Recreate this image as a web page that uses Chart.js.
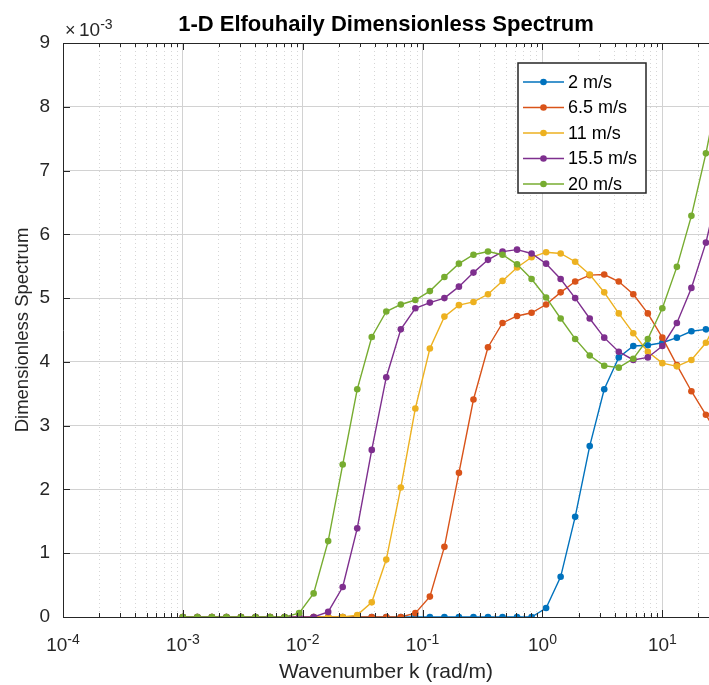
<!DOCTYPE html>
<html>
<head>
  <title>1-D Elfouhaily Dimensionless Spectrum</title>
  <script src="https://cdn.jsdelivr.net/npm/chart.js"></script>
  <style>
    body { margin: 0; background: #fff; overflow: hidden; }
    #chart-container { width: 709px; height: 685px; position: relative; }
  </style>
</head>
<body>
  <div id="chart-container">
    <canvas id="specChart"></canvas>
  </div>

  <script>
    // wavenumber k (rad/m), log spaced sample points
    const k = [0.001, 0.001322, 0.0017475, 0.0023101, 0.0030537, 0.004037, 0.0053367, 0.0070548,
      0.009326, 0.012328, 0.016298, 0.021544, 0.02848, 0.037649, 0.04977, 0.065793,
      0.086975, 0.11497, 0.15199, 0.20092, 0.26561, 0.35112, 0.46416, 0.61359,
      0.81113, 1.0723, 1.4175, 1.8738, 2.4771, 3.2745, 4.3288, 5.7224,
      7.5646, 10.0, 13.219, 17.475, 23.101, 30.537];

    // dimensionless spectrum, in units of 1e-3
    const spec2 = [0, 0, 0, 0, 0, 0, 0, 0, 0, 0, 0, 0, 0, 0, 0, 0, 0, 0, 0, 0, 0, 0, 0, 0, 0,
      0.14, 0.63, 1.57, 2.68, 3.57, 4.07, 4.25, 4.26, 4.30, 4.38, 4.48, 4.51, 4.52];
    const spec65 = [0, 0, 0, 0, 0, 0, 0, 0, 0, 0, 0, 0, 0, 0, 0, 0,
      0.06, 0.32, 1.10, 2.26, 3.41, 4.23, 4.61, 4.72, 4.77, 4.90, 5.09, 5.26, 5.36, 5.37,
      5.26, 5.06, 4.76, 4.38, 3.95, 3.54, 3.17, 2.80];
    const spec11 = [0, 0, 0, 0, 0, 0, 0, 0, 0, 0, 0, 0,
      0.03, 0.23, 0.90, 2.03, 3.27, 4.21, 4.71, 4.89, 4.94, 5.06, 5.27, 5.48, 5.64, 5.72,
      5.70, 5.57, 5.37, 5.09, 4.76, 4.45, 4.16, 3.98, 3.93, 4.03, 4.30, 4.75];
    const spec155 = [0, 0, 0, 0, 0, 0, 0, 0, 0, 0,
      0.08, 0.47, 1.39, 2.62, 3.76, 4.51, 4.84, 4.93, 5.00, 5.18, 5.40, 5.60, 5.73, 5.76,
      5.70, 5.54, 5.30, 5.00, 4.68, 4.38, 4.16, 4.03, 4.07, 4.25, 4.61, 5.16, 5.87, 6.85];
    const spec20 = [0, 0, 0, 0, 0, 0, 0, 0,
      0.06, 0.37, 1.19, 2.39, 3.57, 4.39, 4.79, 4.90, 4.97, 5.11, 5.33, 5.54, 5.68, 5.73,
      5.68, 5.53, 5.30, 5.01, 4.68, 4.36, 4.10, 3.94, 3.91, 4.05, 4.36, 4.84, 5.49, 6.29,
      7.27, 8.42];

    const windLabels = ['2 m/s', '6.5 m/s', '11 m/s', '15.5 m/s', '20 m/s'];
    const windColors = ['#0072BD', '#D95319', '#EDB120', '#7E2F8E', '#77AC30'];
    const allSpecs = [spec2, spec65, spec11, spec155, spec20];

    const FONT = '"Liberation Sans", Arial, sans-serif';

    function isDecade(v) {
      const l = Math.log10(v);
      return Math.abs(l - Math.round(l)) < 1e-6;
    }
    function keepTick(v) {
      if (isDecade(v)) return true;
      const m = v / Math.pow(10, Math.floor(Math.log10(v)));
      return Math.abs(m - Math.round(m)) < 1e-6;
    }

    // "10" with a raised exponent, starting at x0
    function drawPow(ctx, x0, base, exp, big, small, rise) {
      ctx.font = big + 'px ' + FONT;
      const w1 = ctx.measureText('10').width;
      ctx.fillText('10', x0, base);
      ctx.font = small + 'px ' + FONT;
      ctx.fillText(exp, x0 + w1, base - rise);
    }
    function powWidth(ctx, exp, big, small) {
      ctx.font = big + 'px ' + FONT;
      const w1 = ctx.measureText('10').width;
      ctx.font = small + 'px ' + FONT;
      return w1 + ctx.measureText(exp).width;
    }

    const datasets = allSpecs.map((s, i) => ({
      label: windLabels[i],
      data: s.map((v, j) => ({ x: k[j], y: v })),
      borderColor: windColors[i],
      backgroundColor: windColors[i],
      borderWidth: 1.4,
      pointRadius: 3.3,
      pointBorderWidth: 0,
      pointBackgroundColor: windColors[i],
      order: allSpecs.length - i   // later series drawn on top, like MATLAB
    }));

    // title, exponent, x tick labels, inward ticks, top box line and legend
    const decorations = {
      id: 'decorations',
      afterDraw(chart) {
        const { ctx, chartArea: a, scales: { x, y } } = chart;
        ctx.save();
        ctx.strokeStyle = '#262626';
        ctx.lineWidth = 1;
        ctx.beginPath();
        ctx.moveTo(a.left, a.top + 0.5);
        ctx.lineTo(a.right, a.top + 0.5);
        x.ticks.forEach(t => {
          const px = Math.round(x.getPixelForValue(t.value)) + 0.5;
          const len = isDecade(t.value) ? 7 : 4;
          ctx.moveTo(px, a.bottom);
          ctx.lineTo(px, a.bottom - len);
          ctx.moveTo(px, a.top);
          ctx.lineTo(px, a.top + len);
        });
        y.ticks.forEach(t => {
          const py = Math.round(y.getPixelForValue(t.value)) + 0.5;
          ctx.moveTo(a.left, py);
          ctx.lineTo(a.left + 7, py);
        });
        ctx.stroke();

        // x tick labels 10^n
        ctx.fillStyle = '#262626';
        ctx.textAlign = 'left';
        ctx.textBaseline = 'alphabetic';
        x.ticks.forEach(t => {
          if (!isDecade(t.value)) return;
          const e = String(Math.round(Math.log10(t.value)));
          const w = powWidth(ctx, e, 19, 14);
          drawPow(ctx, x.getPixelForValue(t.value) - w / 2, 651, e, 19, 14, 7);
        });

        ctx.fillStyle = '#000';
        ctx.font = 'bold 22px ' + FONT;
        ctx.textAlign = 'center';
        ctx.fillText('1-D Elfouhaily Dimensionless Spectrum', (a.left + a.right) / 2, 31);

        ctx.fillStyle = '#262626';
        ctx.textAlign = 'left';
        ctx.font = '18px ' + FONT;
        ctx.fillText('×', a.left + 2, 36);
        drawPow(ctx, a.left + 16, 36, '-3', 19, 14, 7);

        // legend box
        const lx = 518, ly = 63, lw = 128, lh = 130;
        ctx.fillStyle = '#fff';
        ctx.fillRect(lx, ly, lw, lh);
        ctx.strokeStyle = '#262626';
        ctx.lineWidth = 1.5;
        ctx.strokeRect(lx, ly, lw, lh);
        ctx.font = '18px ' + FONT;
        ctx.textBaseline = 'middle';
        chart.data.datasets.forEach((ds, i) => {
          const ry = 82 + i * 25.5;
          ctx.strokeStyle = ds.borderColor;
          ctx.lineWidth = 1.4;
          ctx.beginPath();
          ctx.moveTo(lx + 5, ry);
          ctx.lineTo(lx + 46, ry);
          ctx.stroke();
          ctx.fillStyle = ds.borderColor;
          ctx.beginPath();
          ctx.arc(lx + 25.5, ry, 3.3, 0, Math.PI * 2);
          ctx.fill();
          ctx.fillStyle = '#000';
          ctx.fillText(ds.label, lx + 50, ry + 1);
        });
        ctx.restore();
      }
    };

    new Chart(document.getElementById('specChart'), {
      type: 'line',
      data: { datasets },
      options: {
        responsive: true,
        maintainAspectRatio: false,
        animation: false,
        events: [],
        layout: { autoPadding: false, padding: { top: 43, left: 0, right: 0, bottom: 0 } },
        plugins: {
          legend: { display: false },
          title: { display: false },
          tooltip: { enabled: false }
        },
        scales: {
          x: {
            type: 'logarithmic',
            min: 0.0001,
            max: 24.5,
            afterBuildTicks: (s) => { s.ticks = s.ticks.filter(t => keepTick(t.value)); },
            afterFit: (s) => { s.height = 68; },
            grid: {
              drawTicks: false,
              color: (c) => (c.tick && isDecade(c.tick.value)) ? '#d2d2d2' : '#d6d6d6',
              lineWidth: 1
            },
            border: {
              color: '#262626',
              width: 1,
              dash: (c) => (c.tick && !isDecade(c.tick.value)) ? [1, 3] : []
            },
            ticks: { display: false, autoSkip: false },
            title: {
              display: true,
              text: 'Wavenumber k (rad/m)',
              color: '#262626',
              font: { family: FONT, size: 21 },
              padding: { top: 0, bottom: 0 }
            }
          },
          y: {
            min: 0,
            max: 9,
            afterFit: (s) => { s.width = 63; },
            grid: { drawTicks: false, color: '#d2d2d2', lineWidth: 1 },
            border: { color: '#262626', width: 1 },
            ticks: {
              stepSize: 1,
              padding: 13,
              color: '#262626',
              font: { family: FONT, size: 19 }
            },
            title: {
              display: true,
              text: 'Dimensionless Spectrum',
              color: '#262626',
              font: { family: FONT, size: 18.5 },
              padding: { top: 12, bottom: 0 }
            }
          }
        }
      },
      plugins: [decorations]
    });
  </script>
</body>
</html>
